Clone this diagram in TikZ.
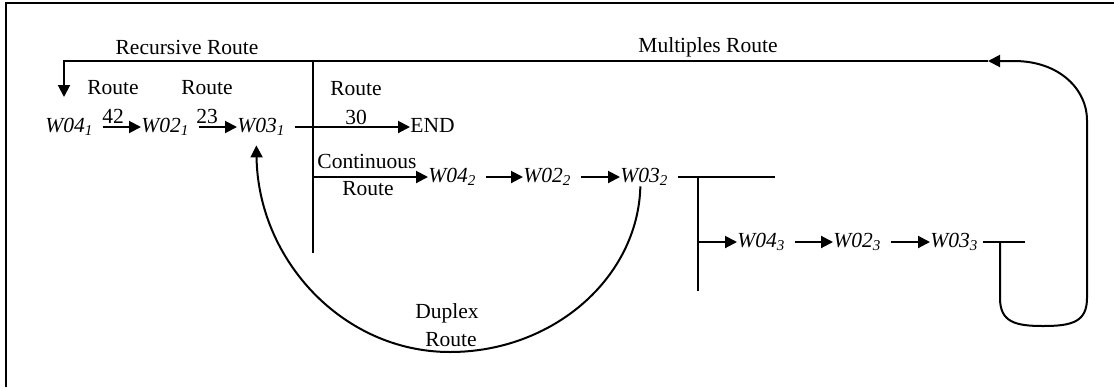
\documentclass[tikz,border=0pt]{standalone}
\usepackage{fontspec}
\setmainfont{Liberation Serif}
\usetikzlibrary{arrows.meta}
\newcommand{\wname}[2]{\textit{W0#1}\textsubscript{\textit{#2}}}

\begin{document}
\begin{tikzpicture}[
      x=0.5pt, y=-0.5pt,
      line/.style={line width=1pt, draw=black},
      pointer/.style={line width=1pt, shorten <=4.5pt, -{Triangle[length=6pt,width=6pt]}, draw=black},
      tpointer/.style={pointer, shorten <=0pt},
      every node/.style={font=\fontsize{10.75}{13}\selectfont, inner sep=0pt},
      wnode/.style={anchor=west, text height=7pt, text depth=2pt}
      ]
      \useasboundingbox (0,0) rectangle (1114,387);
      \draw[line width=1.2pt] (6,387) -- (6,3) -- (1114,3);

      % first run
      \node[wnode] (w041) at (45,127) {\wname{4}{1}};
      \node[wnode] (w021) at (141,127) {\wname{2}{1}};
      \node[wnode] (w031) at (237,127) {\wname{3}{1}};
      \node[wnode] (end) at (410,127) {END};
      \path (w041.east) edge [pointer] (w021.west);
      \path (w021.east) edge [pointer] (w031.west);
      \path (w031.east) edge [pointer] (end.west);
      \node (r42) at (113,88) {Route};
      \node (n42) at (113,116) {42};
      \node (r23) at (207,88) {Route};
      \node (n23) at (207,116) {23};
      \node (r30) at (356,89) {Route};
      \node (n30) at (356,117) {30};

      % recursive / multiples route
      \coordinate (mtip) at (988,61);
      \coordinate (rcorner) at (64,61);
      \coordinate (rtip) at (64,97);
      \draw[tpointer] (mtip) -- (rcorner) -- (rtip);
      \node (recursive) at (187,47) {Recursive Route};
      \node (multiples) at (708,47) {Multiples Route};

      % continuous route
      \coordinate (ctop) at (313,61);
      \coordinate (cbot) at (313,253);
      \coordinate (cjoin) at (313,177);
      \draw[line] (ctop) -- (cbot);
      \node[wnode] (w042) at (428,177) {\wname{4}{2}};
      \node[wnode] (w022) at (523,177) {\wname{2}{2}};
      \node[wnode] (w032) at (620,177) {\wname{3}{2}};
      \path (cjoin) edge [tpointer] (w042.west);
      \path (w042.east) edge [pointer] (w022.west);
      \path (w022.east) edge [pointer] (w032.west);
      \node (cont) at (367,161) {Continuous};
      \node (contr) at (368,189) {Route};

      % second branch
      \coordinate (b2end) at (775,177);
      \coordinate (b2top) at (698,177);
      \coordinate (b2bot) at (698,291);
      \coordinate (b2join) at (698,242);
      \draw[line, shorten <=4.5pt] (w032.east) -- (b2end);
      \draw[line] (b2top) -- (b2bot);
      \node[wnode] (w043) at (737,242) {\wname{4}{3}};
      \node[wnode] (w023) at (833,242) {\wname{2}{3}};
      \node[wnode] (w033) at (930,242) {\wname{3}{3}};
      \path (b2join) edge [tpointer] (w043.west);
      \path (w043.east) edge [pointer] (w023.west);
      \path (w023.east) edge [pointer] (w033.west);

      % loop back to the top
      \coordinate (b3end) at (1025,242);
      \coordinate (b3join) at (1000,242);
      \draw[line, shorten <=2pt] (w033.east) -- (b3end);
      \draw[tpointer] (b3join) -- (1000,298)
        .. controls (1000,322) and (1015,326) .. (1043,326)
        .. controls (1072,326) and (1087,322) .. (1087,298)
        -- (1087,120)
        .. controls (1087,90) and (1060,61) .. (1014,61) -- (mtip);

      % duplex route
      \coordinate (dstart) at ([xshift=-2pt]w032.south);
      \coordinate (dend) at ([xshift=-2.5pt,yshift=-4.5pt]w031.south);
      \draw[tpointer] (dstart)
        .. controls (638,278) and (553,352) .. (450,352)
        .. controls (343,352) and (258,260) .. (dend);
      \node (duplex) at (447,313) {Duplex};
      \node (duplexr) at (451,340) {Route};
    \end{tikzpicture}
\end{document}
